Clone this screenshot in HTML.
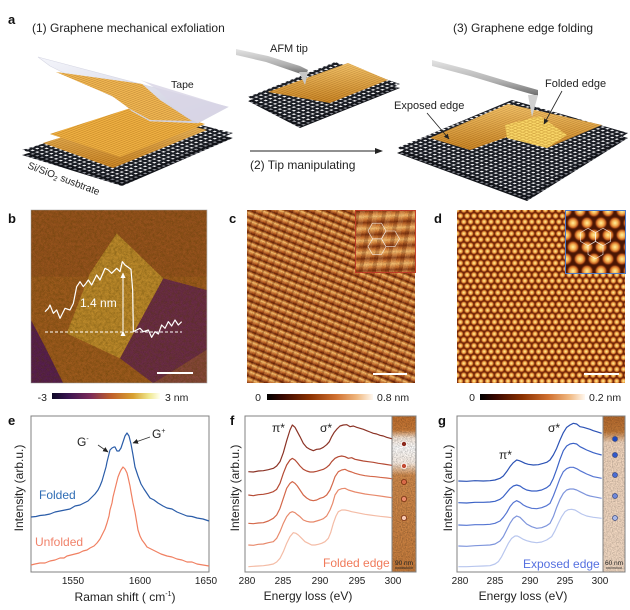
<!DOCTYPE html>
<html>
<head>
<meta charset="utf-8">
<style>
html,body{margin:0;padding:0;background:#fff;}
body{width:630px;height:610px;position:relative;overflow:hidden;font-family:"Liberation Sans",Arial,sans-serif;}
.abs{position:absolute;}
#imgc{left:247px;top:210px;width:168px;height:173px;
background:
repeating-linear-gradient(110deg, rgba(90,30,5,0.25) 0px, rgba(90,30,5,0.25) 2px, rgba(255,220,150,0.12) 2px, rgba(255,220,150,0.12) 5px, rgba(90,30,5,0) 5px, rgba(90,30,5,0) 7px),
repeating-linear-gradient(22deg, #6a2206 0px, #b4541c 1.5px, #e89a4a 3.5px, #f6c070 4.5px, #d07a30 5.5px, #6a2206 7px);}
#insc{left:355px;top:210px;width:59px;height:61px;border:1px solid #c8402a;
background:
repeating-linear-gradient(100deg, rgba(80,25,5,0.25) 0px, rgba(80,25,5,0.25) 4px, rgba(255,230,170,0.15) 4px, rgba(255,230,170,0.15) 9px, rgba(0,0,0,0) 9px, rgba(0,0,0,0) 13px),
repeating-linear-gradient(178deg, #8a3a12 0px, #d27a34 3px, #f4b868 6px, #d27a34 9px, #8a3a12 12px);}
#imgd{left:457px;top:210px;width:168px;height:173px;background-color:#6e2608;
background-image:radial-gradient(circle at center, #fff0a0 0px, #f6c060 1.2px, #e08a38 2.1px, rgba(170,70,20,0.7) 2.8px, rgba(110,35,5,0) 3.3px),
radial-gradient(circle at center, #fff0a0 0px, #f6c060 1.2px, #e08a38 2.1px, rgba(170,70,20,0.7) 2.8px, rgba(110,35,5,0) 3.3px);
background-size:6.8px 11.8px,6.8px 11.8px;background-position:0 0,3.4px 5.9px;}
#insd{left:565px;top:210px;width:59px;height:62px;border:1px solid #4a78c8;background-color:#4a1604;
background-image:radial-gradient(circle at center, #fff0a0 0px, #f4b050 2.8px, #c86424 4.6px, rgba(150,60,15,0.5) 5.6px, rgba(0,0,0,0) 6.5px),
radial-gradient(circle at center, #fff0a0 0px, #f4b050 2.8px, #c86424 4.6px, rgba(150,60,15,0.5) 5.6px, rgba(0,0,0,0) 6.5px);
background-size:14px 24px,14px 24px;background-position:0 0,7px 12px;}
#cbb{left:52px;top:393px;width:108px;height:6px;background:linear-gradient(90deg,#0d0828 0%,#3a1550 15%,#7a2a5a 35%,#c0602a 55%,#d8a030 75%,#f0e890 90%,#fffff0 100%);}
#cbc{left:267px;top:394px;width:106px;height:6px;background:linear-gradient(90deg,#000 0%,#3a0800 15%,#8a3000 40%,#d07030 65%,#f0b880 85%,#fff8f0 100%);}
#cbd{left:480px;top:394px;width:105px;height:6px;background:linear-gradient(90deg,#000 0%,#3a0800 15%,#8a3000 40%,#d07030 65%,#f0b880 85%,#fff8f0 100%);}
svg{position:absolute;left:0;top:0;}
</style>
</head>
<body>
<div class="abs" id="imgc"></div>
<div class="abs" id="insc"></div>
<div class="abs" id="imgd"></div>
<div class="abs" id="insd"></div>
<div class="abs" id="cbb"></div>
<div class="abs" id="cbc"></div>
<div class="abs" id="cbd"></div>

<svg width="630" height="610" viewBox="0 0 630 610" xmlns="http://www.w3.org/2000/svg" font-family="Liberation Sans, Arial, sans-serif">
<defs>
  <pattern id="lat" width="5" height="5" patternUnits="userSpaceOnUse" patternTransform="matrix(0.93,-0.37,0.94,0.34,0,0)">
    <rect width="5" height="5" fill="#f2f2f4"/>
    <rect width="5" height="2.6" fill="#1b1e25"/>
    <rect width="2.6" height="5" fill="#1b1e25"/>
  </pattern>
  <pattern id="latd" width="5" height="5" patternUnits="userSpaceOnUse" patternTransform="matrix(0.93,-0.37,0.94,0.34,0,0)">
    <rect width="5" height="5" fill="#8a8c94"/>
    <rect width="5" height="2.6" fill="#111318"/>
    <rect width="2.6" height="5" fill="#111318"/>
  </pattern>
  <pattern id="gph" width="3" height="3" patternUnits="userSpaceOnUse" patternTransform="matrix(0.93,-0.37,0.94,0.34,0,0)">
    <rect width="3" height="3" fill="#eba838"/>
    <rect width="3" height="0.9" fill="#b87418"/>
  </pattern>
  <pattern id="gphf" width="4" height="4" patternUnits="userSpaceOnUse" patternTransform="matrix(0.93,-0.37,0.94,0.34,0,0)">
    <rect width="4" height="4" fill="#f6cc50"/>
    <rect width="4" height="1" fill="#c89020"/>
    <rect width="1" height="4" fill="#c89020"/>
  </pattern>
  <linearGradient id="tapeg" x1="0" y1="0" x2="1" y2="1">
    <stop offset="0" stop-color="#f4f5fb"/>
    <stop offset="1" stop-color="#c9cadb"/>
  </linearGradient>
  <linearGradient id="shade" x1="0" y1="0" x2="0" y2="1">
    <stop offset="0" stop-color="#fff2c0" stop-opacity="0.35"/>
    <stop offset="1" stop-color="#8a4a08" stop-opacity="0.35"/>
  </linearGradient>
  <linearGradient id="tipg" x1="0" y1="0" x2="0" y2="1">
    <stop offset="0" stop-color="#e4e4e4"/>
    <stop offset="0.6" stop-color="#b0b0b0"/>
    <stop offset="1" stop-color="#6a6a6a"/>
  </linearGradient>
  <linearGradient id="stripf" x1="0" y1="0" x2="0" y2="1">
    <stop offset="0" stop-color="#c2702e"/>
    <stop offset="0.09" stop-color="#c87a38"/>
    <stop offset="0.14" stop-color="#f6e6d8"/>
    <stop offset="0.2" stop-color="#ffffff"/>
    <stop offset="0.3" stop-color="#fbf0e6"/>
    <stop offset="0.38" stop-color="#d08a4c"/>
    <stop offset="1" stop-color="#c67c3c"/>
  </linearGradient>
  <linearGradient id="stripg" x1="0" y1="0" x2="0" y2="1">
    <stop offset="0" stop-color="#b5692d"/>
    <stop offset="0.1" stop-color="#c07838"/>
    <stop offset="0.17" stop-color="#f0d4bc"/>
    <stop offset="1" stop-color="#f1d8c2"/>
  </linearGradient>
  <filter id="grain" x="0" y="0" width="100%" height="100%">
    <feTurbulence type="fractalNoise" baseFrequency="0.8" numOctaves="2" seed="3"/>
    <feColorMatrix type="matrix" values="0 0 0 0 0  0 0 0 0 0  0 0 0 0 0  1.6 0 0 0 -0.55"/>
    <feComposite in2="SourceAlpha" operator="in"/>
  </filter>
  <filter id="blob" x="0" y="0" width="100%" height="100%">
    <feTurbulence type="fractalNoise" baseFrequency="0.12" numOctaves="3" seed="7"/>
    <feColorMatrix type="matrix" values="0 0 0 0 0.1  0 0 0 0 0.05  0 0 0 0 0  1.4 0 0 0 -0.5"/>
    <feComposite in2="SourceAlpha" operator="in"/>
  </filter>
  <clipPath id="clipb"><rect x="31" y="210" width="176" height="173"/></clipPath>
  <marker id="ah" markerWidth="6" markerHeight="6" refX="5" refY="3" orient="auto" markerUnits="userSpaceOnUse">
    <path d="M0,0.5 L5.5,3 L0,5.5 Z" fill="#222"/>
  </marker>
  <marker id="ahw" markerWidth="6" markerHeight="6" refX="5" refY="3" orient="auto" markerUnits="userSpaceOnUse">
    <path d="M0,0.5 L5.5,3 L0,5.5 Z" fill="#fff"/>
  </marker>
</defs>

<!-- ============ PANEL A ============ -->
<text x="8" y="24" font-size="13" font-weight="bold" fill="#111">a</text>
<text x="32" y="32" font-size="12" fill="#222">(1) Graphene mechanical exfoliation</text>
<text x="453" y="32" font-size="12" fill="#222">(3) Graphene edge folding</text>

<!-- left substrate -->
<polygon points="22,155 148,117 233,138 122,186" fill="url(#latd)"/>
<polygon points="22,150 148,112 233,133 122,181" fill="url(#lat)"/>
<!-- left graphene sheets -->
<polygon points="43,143 140,113 207,130 113,168" fill="url(#gph)"/>
<polygon points="43,143 140,113 207,130 113,168" fill="url(#shade)"/>
<polygon points="50,134 140,105 205,124 120,157" fill="url(#gph)"/>
<polygon points="50,134 140,105 205,124 120,157" fill="#f8c860" opacity="0.25"/>
<!-- tape -->
<polygon points="38,57 228,107 198,123 150,121 132,111 118,99 82,82 50,66" fill="url(#tapeg)" stroke="#d6d7e4" stroke-width="0.6"/>
<polygon points="56,72 142,84 160,100 192,121 150,120 130,109 112,96 84,84" fill="url(#gph)"/>
<polygon points="56,72 142,84 160,100 192,121 150,120 130,109 112,96 84,84" fill="#fff0c0" opacity="0.2"/>
<path d="M140,80 Q160,88 170,104 Q182,116 198,123 L228,107 Z" fill="#d9d6e6" opacity="0.85"/>
<text x="171" y="88" font-size="10.5" fill="#222">Tape</text>
<text x="27" y="168" font-size="10" fill="#222" transform="rotate(21 27 168)">Si/SiO<tspan font-size="7" dy="2">2</tspan><tspan dy="-2"> susbtrate</tspan></text>

<!-- middle -->
<polygon points="248,101 335,66 400,88 300,128" fill="url(#latd)"/>
<polygon points="248,97 335,62 400,84 300,124" fill="url(#lat)"/>
<polygon points="268,92 348,63 388,80 330,103" fill="url(#gph)"/>
<polygon points="268,92 348,63 388,80 330,103" fill="url(#shade)"/>
<polygon points="236,49 268,56 300,66 308,70 306,75 298,73 266,62 236,55" fill="url(#tipg)"/>
<polygon points="299,72 308,72 305,85" fill="#c8c8c8"/>
<text x="270" y="52" font-size="11" fill="#222">AFM tip</text>
<line x1="250" y1="151" x2="377" y2="151" stroke="#222" stroke-width="1.1"/>
<polygon points="375,148 383,151 375,154" fill="#222"/>
<text x="250" y="169" font-size="12" fill="#222">(2) Tip manipulating</text>

<!-- right -->
<polygon points="397,153 512,105 628,138 527,201" fill="url(#latd)"/>
<polygon points="397,148 512,100 628,133 527,196" fill="url(#lat)"/>
<polygon points="430,138 508,104 602,125 547,148 507,137 470,150" fill="url(#gph)"/>
<polygon points="430,138 508,104 602,125 547,148 507,137 470,150" fill="url(#shade)"/>
<polygon points="505,125 540,116 567,135 547,148 507,138" fill="url(#gphf)"/>
<polygon points="505,125 540,116 567,135 547,148 507,138" fill="#fff0a0" opacity="0.3"/>
<polygon points="432,60 470,70 510,82 538,90 538,96 510,88 470,76 432,66" fill="url(#tipg)"/>
<polygon points="528,95 538,95 532,117" fill="#d0d0d0"/>
<text x="545" y="87" font-size="11" fill="#222">Folded edge</text>
<text x="394" y="109" font-size="11" fill="#222">Exposed edge</text>
<line x1="562" y1="91" x2="544" y2="124" stroke="#222" stroke-width="0.8" marker-end="url(#ah)"/>
<line x1="427" y1="113" x2="449" y2="139" stroke="#222" stroke-width="0.8" marker-end="url(#ah)"/>

<!-- ============ PANEL B ============ -->
<text x="8" y="223" font-size="13" font-weight="bold" fill="#111">b</text>
<g clip-path="url(#clipb)">
  <g transform="translate(0,190) scale(0.33333)">
    <rect x="93" y="60" width="527" height="520" fill="#a25e1e"/>
    <rect x="93" y="60" width="527" height="200" fill="#96521e" opacity="0.6"/>
    <polygon points="350,130 490,265 360,505 200,430 270,250" fill="#c28e2c"/>
    <polygon points="490,265 620,300 620,480 460,580 360,505" fill="#6e2e48"/>
    <polygon points="620,480 620,580 460,580" fill="#8a4a3a"/>
    <polygon points="93,390 135,470 190,580 93,580" fill="#5a2050"/>
    <rect x="93" y="60" width="527" height="520" fill="#000" filter="url(#blob)" opacity="0.5"/>
    <rect x="93" y="60" width="527" height="520" fill="#000" filter="url(#grain)" opacity="0.25"/>
  </g>
</g>
<rect x="31" y="210" width="176" height="173" fill="none" stroke="#999" stroke-width="0.5"/>
<g transform="translate(0,190) scale(0.33333)">
  <polyline fill="none" stroke="#fff" stroke-width="1.2" vector-effect="non-scaling-stroke" stroke-linejoin="round"
    points="135,365 145,355 150,345 160,370 170,360 180,385 195,355 210,360 220,340 230,290 240,275 250,290 258,280 265,270 275,285 290,255 300,270 315,235 325,240 335,250 350,235 360,245 367,215 375,225 385,232 393,238 398,300 400,425 410,420 420,415 430,425 445,420 455,442 465,425 475,432 485,405 495,415 505,395 515,408 525,390 535,405 545,395"/>
</g>
<line x1="45" y1="332" x2="182" y2="332" stroke="#fff" stroke-width="1" stroke-dasharray="3,2"/>
<line x1="123" y1="331" x2="123" y2="273" stroke="#fff" stroke-width="1" marker-end="url(#ahw)" marker-start="url(#ahw)"/>
<text x="80" y="307" font-size="12" fill="#fff">1.4 nm</text>
<line x1="157" y1="373" x2="193" y2="373" stroke="#fff" stroke-width="2"/>
<text x="47" y="401" font-size="10.5" fill="#222" text-anchor="end">-3</text>
<text x="165" y="401" font-size="10.5" fill="#222">3 nm</text>

<!-- ============ PANEL C ============ -->
<text x="229" y="223" font-size="13" font-weight="bold" fill="#111">c</text>
<rect x="247" y="210" width="168" height="173" fill="#000" filter="url(#grain)" opacity="0.2"/>
<g fill="none" stroke="#fff" stroke-width="0.6" opacity="0.85">
  <path d="M386,231 L381.5,238.8 L372.5,238.8 L368,231 L372.5,223.2 L381.5,223.2 Z"/>
  <path d="M386,246.6 L381.5,254.4 L372.5,254.4 L368,246.6 L372.5,238.8 L381.5,238.8 Z"/>
  <path d="M399.5,238.8 L395,246.6 L386,246.6 L381.5,238.8 L386,231 L395,231 Z"/>
</g>
<line x1="373" y1="374" x2="407" y2="374" stroke="#fff" stroke-width="2"/>
<text x="258" y="401" font-size="10.5" fill="#222" text-anchor="middle">0</text>
<text x="377" y="401" font-size="10.5" fill="#222">0.8 nm</text>

<!-- ============ PANEL D ============ -->
<text x="434" y="223" font-size="13" font-weight="bold" fill="#111">d</text>
<g fill="none" stroke="#fff" stroke-width="0.6" opacity="0.85">
  <path d="M588,228.3 L595.5,232.6 L595.5,241.4 L588,245.7 L580.5,241.4 L580.5,232.6 Z"/>
  <path d="M603,228.3 L610.5,232.6 L610.5,241.4 L603,245.7 L595.5,241.4 L595.5,232.6 Z"/>
  <path d="M595.5,241.4 L603,245.7 L603,254.4 L595.5,258.7 L588,254.4 L588,245.7 Z"/>
</g>
<line x1="584" y1="374" x2="619" y2="374" stroke="#fff" stroke-width="2"/>
<text x="472" y="401" font-size="10.5" fill="#222" text-anchor="middle">0</text>
<text x="589" y="401" font-size="10.5" fill="#222">0.2 nm</text>

<!-- ============ PANEL E ============ -->
<text x="8" y="425" font-size="13" font-weight="bold" fill="#111">e</text>
<rect x="31" y="416" width="178" height="156" fill="none" stroke="#808080" stroke-width="1"/>
<polyline fill="none" stroke="#2a5ca8" stroke-width="1.2" stroke-linejoin="round"
  points="31,517 36,516.5 40,515.5 45,515 50,514 55,512 60,511 65,510 70,509 75,506 80,505 84,503 88,501 92,497 95,494 98,490 100,486 102,481 104,474 106,467 107,462 109,454 110,450 112,448 114,447 115,447 117,451 119,451 121,448 122,445 124,439 125,436 127,433 129,436 130,440 131,444 133,455 135,467 138,476 141,484 144,489 146,492 150,498 154,500 158,503 163,506 167,508 172,509 177,512 182,514 187,516 192,516.5 197,518 203,519 209,521"/>
<polyline fill="none" stroke="#f08062" stroke-width="1.2" stroke-linejoin="round"
  points="31,565 35,564 40,563 45,563 50,561 55,560 60,558 64,558 67,556 71,555 75,554 79,553 83,551 87,550 90,548 94,546 97,543 100,539 102,535 105,529 107,523 109,516 110,510 112,503 113,497 115,489 116,485 118,477 120,472 121,470 123,467 125,469 127,473 128,477 130,486 131,492 133,503 135,512 136,518 138,530 140,536 142,540 145,544 147,547 151,549 155,551 161,554 167,556 172,557 177,559 182,560 187,562 192,562 197,564 203,565 209,566"/>
<text x="39" y="499" font-size="12" fill="#2f6db5">Folded</text>
<text x="35" y="546" font-size="12" fill="#f0826a">Unfolded</text>
<text x="77" y="446" font-size="12" fill="#222">G<tspan font-size="7" dy="-5">-</tspan></text>
<text x="152" y="438" font-size="12" fill="#222">G<tspan font-size="7" dy="-5">+</tspan></text>
<line x1="98" y1="445" x2="108" y2="452" stroke="#333" stroke-width="0.8" marker-end="url(#ah)"/>
<line x1="150" y1="437" x2="133" y2="443" stroke="#333" stroke-width="0.8" marker-end="url(#ah)"/>
<text x="73" y="584" font-size="10" fill="#222" text-anchor="middle">1550</text>
<text x="140" y="584" font-size="10" fill="#222" text-anchor="middle">1600</text>
<text x="206" y="584" font-size="10" fill="#222" text-anchor="middle">1650</text>
<text x="125" y="601" font-size="12" fill="#222" text-anchor="middle">Raman shift (<tspan> cm</tspan><tspan font-size="7" dy="-5">-1</tspan><tspan dy="5">)</tspan></text>
<text transform="translate(23,488) rotate(-90)" font-size="12" fill="#222" text-anchor="middle">Intensity (arb.u.)</text>

<!-- ============ PANEL F ============ -->
<text x="230" y="425" font-size="13" font-weight="bold" fill="#111">f</text>
<rect x="392" y="416" width="24" height="156" fill="url(#stripf)"/>
<rect x="392" y="416" width="24" height="156" fill="#000" filter="url(#grain)" opacity="0.35"/>
<rect x="245" y="416" width="171" height="156" fill="none" stroke="#808080" stroke-width="1"/>
<line x1="392" y1="416" x2="392" y2="572" stroke="#808080" stroke-width="1"/>
<g transform="translate(210,410) scale(0.33333)" fill="none" stroke-width="1.2" stroke-linejoin="round">
  <polyline vector-effect="non-scaling-stroke" stroke="#8b3326" points="115,185 130,186 145,183 160,182 175,179 190,175 200,168 210,155 220,128 230,92 240,60 247,45 255,52 262,65 270,80 280,100 290,112 300,118 310,122 320,118 330,117 340,112 350,104 358,95 365,80 372,68 380,58 390,48 400,45 410,44 420,50 430,48 440,52 450,55 460,58 470,62 480,66 490,70 500,72 510,76 520,78 530,82 545,86"/>
  <polyline vector-effect="non-scaling-stroke" stroke="#b44a34" points="115,255 130,257 145,254 160,253 175,250 190,245 200,238 210,220 220,190 230,165 240,150 247,145 255,150 262,158 270,168 280,178 290,183 300,186 310,186 320,184 330,181 340,178 350,172 358,165 365,155 375,145 385,140 395,138 405,140 415,145 425,143 435,148 445,150 460,153 475,155 490,157 505,160 520,162 545,166"/>
  <polyline vector-effect="non-scaling-stroke" stroke="#d4684a" points="115,340 130,341 145,339 160,338 175,333 190,325 200,315 210,295 220,265 230,235 240,220 247,215 255,220 262,228 270,240 280,255 290,264 300,270 310,272 320,270 330,265 340,262 350,255 360,240 368,220 375,200 385,185 395,180 405,178 415,183 425,186 435,190 450,194 465,197 480,199 495,200 510,202 530,204 545,206"/>
  <polyline vector-effect="non-scaling-stroke" stroke="#e88a6c" points="115,405 130,406 145,403 160,402 175,398 190,395 200,385 210,365 220,340 230,320 240,308 247,305 255,308 262,314 270,320 280,330 290,334 300,336 310,336 320,333 330,330 340,326 350,318 360,300 368,280 375,255 385,240 395,236 405,235 415,240 425,243 435,246 450,249 465,252 480,254 495,256 510,258 530,261 545,263"/>
  <polyline vector-effect="non-scaling-stroke" stroke="#f4bca6" points="115,470 130,469 145,468 160,467 175,465 190,462 200,456 210,445 220,425 230,400 240,380 250,368 258,370 265,375 275,385 285,395 295,400 305,405 315,405 325,403 335,400 345,395 355,385 362,368 370,340 378,318 385,305 395,300 405,300 415,302 425,305 435,307 450,310 465,313 480,315 495,317 510,319 530,321 545,323"/>
</g>
<g stroke-width="0.8">
  <circle cx="404" cy="444" r="2.6" fill="#8b2a1e" stroke="#fff"/>
  <circle cx="404" cy="466" r="2.6" fill="#c24a32" stroke="#fff"/>
  <circle cx="404" cy="482" r="2.6" fill="#d86a48" stroke="#7a3010"/>
  <circle cx="404" cy="499" r="2.6" fill="#e88a6a" stroke="#7a3010"/>
  <circle cx="404" cy="518" r="2.6" fill="#f6c8b2" stroke="#7a3010"/>
</g>
<text x="404" y="565" font-size="6.5" fill="#222" text-anchor="middle">90 nm</text>
<line x1="395" y1="568" x2="413" y2="568" stroke="#222" stroke-width="0.7"/>
<text x="323" y="567" font-size="12" fill="#f07a5a">Folded edge</text>
<text x="272" y="432" font-size="12" fill="#222">π*</text>
<text x="320" y="432" font-size="12" fill="#222">σ*</text>
<text x="247" y="584" font-size="10" fill="#222" text-anchor="middle">280</text>
<text x="283" y="584" font-size="10" fill="#222" text-anchor="middle">285</text>
<text x="320" y="584" font-size="10" fill="#222" text-anchor="middle">290</text>
<text x="357" y="584" font-size="10" fill="#222" text-anchor="middle">295</text>
<text x="393" y="584" font-size="10" fill="#222" text-anchor="middle">300</text>
<text x="308" y="600" font-size="12" fill="#222" text-anchor="middle">Energy loss (eV)</text>
<text transform="translate(239,488) rotate(-90)" font-size="12" fill="#222" text-anchor="middle">Intensity (arb.u.)</text>

<!-- ============ PANEL G ============ -->
<text x="438" y="425" font-size="13" font-weight="bold" fill="#111">g</text>
<rect x="603" y="416" width="22" height="156" fill="url(#stripg)"/>
<rect x="603" y="416" width="22" height="156" fill="#000" filter="url(#grain)" opacity="0.3"/>
<rect x="457" y="416" width="168" height="156" fill="none" stroke="#808080" stroke-width="1"/>
<line x1="603" y1="416" x2="603" y2="572" stroke="#808080" stroke-width="1"/>
<g transform="translate(420,410) scale(0.33333)" fill="none" stroke-width="1.2" stroke-linejoin="round">
  <polyline vector-effect="non-scaling-stroke" stroke="#2b52b5" points="115,213 140,214 165,212 190,213 210,212 225,210 240,205 250,198 260,185 270,170 280,158 290,150 298,152 305,155 315,160 325,163 340,165 355,164 370,160 380,157 390,150 400,135 410,115 420,90 430,68 440,52 450,45 460,40 470,42 480,50 490,52 500,55 510,58 520,62 530,65 545,70"/>
  <polyline vector-effect="non-scaling-stroke" stroke="#3b62c6" points="115,278 140,279 165,277 190,277 210,276 225,274 240,268 250,260 260,248 270,236 280,228 290,225 300,228 310,235 320,240 335,243 350,243 365,240 380,233 390,225 400,205 410,178 420,148 430,122 440,108 450,102 460,100 470,102 480,110 490,115 500,120 510,124 520,128 530,131 545,135"/>
  <polyline vector-effect="non-scaling-stroke" stroke="#5575d2" points="115,345 140,346 165,344 190,344 210,343 225,340 240,333 250,322 260,308 270,290 280,278 290,272 300,277 310,285 320,290 335,295 350,296 365,293 380,287 390,280 400,258 410,232 420,205 430,185 440,176 450,172 460,172 470,176 480,182 490,187 500,192 510,196 520,200 530,202 545,205"/>
  <polyline vector-effect="non-scaling-stroke" stroke="#7e95dc" points="115,408 140,409 165,407 190,406 210,405 225,402 240,393 250,380 260,360 270,340 280,325 290,318 300,322 310,332 320,342 335,350 350,355 365,353 380,347 390,340 400,320 410,292 420,268 430,250 440,240 450,237 460,237 470,240 480,245 490,250 500,255 510,258 520,260 530,262 545,265"/>
  <polyline vector-effect="non-scaling-stroke" stroke="#b8c6ee" points="115,470 140,470 165,469 190,468 210,467 225,462 235,455 245,440 255,420 265,400 275,385 285,378 292,378 300,382 310,388 320,392 335,396 350,398 365,396 380,390 395,380 405,362 415,340 425,320 435,305 445,299 455,298 465,300 475,306 485,312 500,318 510,320 520,322 530,323 545,325"/>
</g>
<g stroke-width="0.7" stroke="#3a4a80">
  <circle cx="615" cy="439" r="2.5" fill="#1c48c0"/>
  <circle cx="615" cy="455" r="2.5" fill="#3058cc"/>
  <circle cx="615" cy="475" r="2.5" fill="#4a6cd4"/>
  <circle cx="615" cy="496" r="2.5" fill="#6f88da"/>
  <circle cx="615" cy="518" r="2.5" fill="#a8b8e8"/>
</g>
<text x="614" y="565" font-size="6.5" fill="#222" text-anchor="middle">60 nm</text>
<line x1="606" y1="568" x2="622" y2="568" stroke="#222" stroke-width="0.7"/>
<text x="523" y="568" font-size="12" fill="#5570e0">Exposed edge</text>
<text x="548" y="432" font-size="12" fill="#222">σ*</text>
<text x="499" y="459" font-size="12" fill="#222">π*</text>
<text x="460" y="584" font-size="10" fill="#222" text-anchor="middle">280</text>
<text x="495" y="584" font-size="10" fill="#222" text-anchor="middle">285</text>
<text x="530" y="584" font-size="10" fill="#222" text-anchor="middle">290</text>
<text x="565" y="584" font-size="10" fill="#222" text-anchor="middle">295</text>
<text x="600" y="584" font-size="10" fill="#222" text-anchor="middle">300</text>
<text x="523" y="600" font-size="12" fill="#222" text-anchor="middle">Energy loss (eV)</text>
<text transform="translate(452,488) rotate(-90)" font-size="12" fill="#222" text-anchor="middle">Intensity (arb.u.)</text>
</svg>
</body>
</html>
